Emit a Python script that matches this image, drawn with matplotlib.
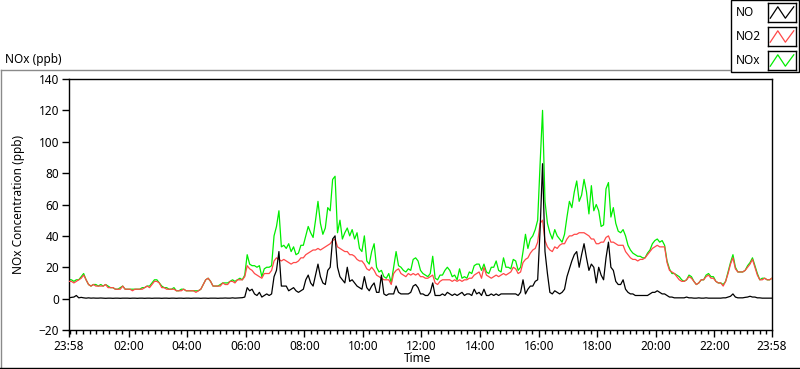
import numpy as np
import matplotlib.pyplot as plt
from matplotlib.lines import Line2D
from matplotlib.patches import Rectangle

plt.rcParams['font.family'] = ['Noto Sans', 'DejaVu Sans']
plt.rcParams['font.size'] = 8.5

# 5-minute readings starting at 23:58, one row per hour
step_min = 5

no = [0.5, 0.8, 1, 2, 0.5, 0.8, 0.5, 0.3, 0.5, 0.3, 0.4, 0.3,
      0.3, 0.4, 0.3, 0.2, 0.3, 0.3, 0.2, 0.3, 0.3, 0.2, 0.3, 0.3,
      0.3, 0.2, 0.3, 0.3, 0.2, 0.3, 0.3, 0.2, 0.3, 0.3, 0.2, 0.3,
      0.3, 0.3, 0.2, 0.3, 0.3, 0.2, 0.3, 0.3, 0.2, 0.3, 0.3, 0.2,
      0.3, 0.3, 0.2, 0.3, 0.3, 0.3, 0.2, 0.3, 0.3, 0.2, 0.3, 0.3,
      0.3, 0.2, 0.3, 0.3, 0.4, 0.3, 0.3, 0.5, 0.3, 0.4, 0.5, 0.6,
      1, 7, 5, 6, 3, 2, 4, 1, 2, 3, 2, 3,
      14, 18, 30, 8, 8, 8, 5, 6, 7, 5, 4, 5,
      6, 12, 15, 10, 8, 15, 22, 14, 10, 9, 18, 20,
      38, 40, 20, 14, 12, 10, 20, 11, 12, 10, 8, 7,
      6, 14, 7, 5, 8, 10, 4, 4, 15, 3, 2, 3,
      3, 3, 8, 4, 3, 3, 3, 3, 4, 8, 9, 7,
      3, 3, 2, 2, 4, 10, 2, 2, 2, 3, 2, 4,
      3, 2, 3, 2, 3, 4, 2, 3, 3, 2, 6, 3,
      4, 2, 6, 2, 2, 3, 2, 3, 2, 3, 3, 3,
      3, 3, 3, 3, 2, 4, 12, 3, 6, 8, 8, 11,
      12, 44, 86, 30, 16, 4, 3, 5, 4, 3, 4, 6,
      14, 19, 24, 28, 30, 20, 28, 35, 26, 18, 22, 20,
      10, 20, 15, 12, 26, 36, 20, 18, 11, 9, 9, 12,
      6, 4, 3, 3, 2, 2, 2, 2, 2, 2, 3, 4,
      4, 5, 4, 3, 3, 2, 1, 1, 0.5, 0.5, 0.5, 0.5,
      0.5, 1, 0.5, 0.5, 0.3, 0.3, 0.5, 0.3, 0.3, 0.5, 0.3, 0.3,
      0.3, 0.3, 0.3, 0.3, 0.5, 0.5, 1, 1.5, 3, 1, 0.5, 0.5,
      0.5, 0.8, 1, 1.5, 1, 1, 0.5, 0.5, 0.3, 0.3, 0.3, 0.3, 0.3]

no2 = [11, 11, 10, 11, 12, 13, 15, 12, 9, 8, 9, 8,
       8, 8, 8, 9, 7, 7, 7, 6, 6, 6, 8, 6,
       6, 6, 5, 6, 6, 6, 6, 7, 8, 7, 9, 11,
       11, 10, 7, 7, 6, 6, 6, 6, 5, 5, 5, 6,
       5, 5, 5, 5, 4, 5, 6, 9, 12, 13, 11, 8,
       8, 8, 8, 10, 9, 9, 11, 11, 10, 12, 12, 12,
       14, 21, 19, 18, 16, 15, 14, 13, 16, 16, 16, 18,
       24, 26, 25, 24, 25, 24, 23, 22, 23, 23, 24, 26,
       26, 28, 29, 30, 31, 31, 32, 31, 32, 33, 34, 35,
       37, 38, 33, 32, 31, 30, 30, 28, 28, 27, 25, 24,
       24, 22, 19, 18, 20, 18, 15, 14, 13, 12, 12, 12,
       9, 16, 18, 19, 16, 15, 14, 16, 15, 16, 15, 16,
       14, 14, 13, 13, 14, 15, 10, 9, 11, 12, 12, 12,
       12, 11, 12, 11, 12, 11, 12, 12, 13, 13, 15, 16,
       17, 13, 20, 15, 14, 13, 14, 15, 14, 15, 16, 15,
       16, 17, 20, 19, 16, 17, 23, 25, 26, 29, 31, 32,
       36, 48, 50, 37, 33, 31, 30, 33, 32, 34, 35, 35,
       38, 40, 40, 41, 41, 42, 42, 42, 41, 40, 38, 38,
       35, 35, 36, 36, 39, 40, 36, 36, 35, 34, 34, 34,
       30, 28, 26, 25, 25, 24, 25, 25, 26, 28, 30, 32,
       33, 34, 33, 33, 33, 23, 18, 17, 16, 14, 12, 11,
       11, 12, 14, 13, 11, 9, 10, 12, 12, 14, 15, 13,
       13, 11, 10, 10, 8, 11, 16, 22, 26, 19, 17, 17,
       17, 18, 20, 22, 25, 20, 15, 12, 12, 13, 12, 12, 13]

nox = [12, 12, 11, 12, 12, 14, 16, 12, 9, 8, 9, 9,
       8, 9, 8, 9, 8, 7, 7, 6, 6, 7, 8, 6,
       6, 6, 6, 6, 6, 6, 7, 7, 8, 8, 10, 12,
       12, 10, 8, 7, 7, 6, 6, 7, 5, 5, 6, 6,
       5, 5, 5, 5, 5, 5, 6, 9, 12, 13, 11, 8,
       8, 8, 9, 10, 10, 10, 11, 12, 11, 12, 13, 12,
       15, 28, 22, 21, 21, 20, 21, 14, 19, 20, 20, 21,
       40, 46, 56, 33, 34, 32, 35, 30, 33, 28, 29, 34,
       34, 40, 46, 42, 39, 50, 62, 48, 41, 45, 58, 56,
       76, 78, 42, 50, 38, 42, 45, 40, 44, 38, 42, 32,
       30, 40, 24, 22, 30, 35, 20, 17, 18, 14, 13, 16,
       10, 20, 30, 21, 20, 18, 17, 19, 18, 25, 26, 24,
       18, 16, 15, 14, 16, 27, 13, 12, 15, 15, 18, 20,
       18, 14, 15, 12, 19, 13, 14, 13, 17, 16, 21, 22,
       22, 18, 22, 17, 16, 20, 20, 24, 18, 17, 26, 20,
       20, 19, 25, 24, 18, 20, 30, 41, 32, 38, 40, 44,
       50, 86, 120, 62, 48, 42, 38, 44, 40, 38, 36, 41,
       52, 62, 58, 68, 75, 62, 66, 76, 68, 54, 72, 56,
       60, 56, 46, 47, 70, 74, 52, 58, 48, 43, 42, 44,
       40, 34, 31, 29, 28, 27, 27, 26, 26, 29, 31, 35,
       37, 38, 36, 37, 34, 24, 19, 16, 16, 15, 14, 12,
       11, 12, 15, 14, 11, 9, 10, 12, 12, 15, 16, 14,
       14, 11, 10, 10, 9, 11, 17, 23, 28, 20, 17, 17,
       17, 18, 21, 23, 26, 21, 16, 12, 13, 13, 12, 12, 13]

x_labels = ['23:58', '02:00', '04:00', '06:00', '08:00', '10:00', '12:00',
            '14:00', '16:00', '18:00', '20:00', '22:00', '23:58']
y_ticks = [-20, 0, 20, 40, 60, 80, 100, 120, 140]

t = np.arange(len(no)) * step_min
span = t[-1]

fig = plt.figure(figsize=(8, 3.69), dpi=100)
W, H = 800, 369

def fx(px):
    return px / W

def fy(py):
    return 1 - py / H

ax = fig.add_axes([fx(69), fy(330), fx(772) - fx(69), fy(79) - fy(330)])
ax.plot(t, nox, color='#00ee00', lw=0.9, zorder=2)
ax.plot(t, no2, color='#ff4848', lw=0.9, zorder=3)
ax.plot(t, no, color='black', lw=0.9, zorder=4)

ax.set_xlim(0, span)
ax.set_ylim(-20, 140)

# major ticks: first and last at 23:58, others on even hours (2 min after start)
major = [0] + [122 + 120 * k for k in range(11)] + [span]
ax.set_xticks(major)
ax.set_xticklabels(x_labels)
minor = np.arange(2, span, 120 / 9)
ax.set_xticks(minor, minor=True)
ax.set_yticks(y_ticks)
ax.tick_params(axis='both', which='major', length=5, width=1, color='black',
               labelsize=8.5, pad=2)
ax.tick_params(axis='x', which='minor', length=3, width=1, color='black')
for s in ax.spines.values():
    s.set_linewidth(1.0)
    s.set_color('black')
ax.set_xlabel('Time', fontsize=8.5)
ax.xaxis.set_label_coords((404 - 69) / 703, -0.115)
ax.xaxis.label.set_horizontalalignment('left')
ax.xaxis.label.set_verticalalignment('center')
ax.set_ylabel('NOx Concentration (ppb)', fontsize=8.5)
ax.yaxis.set_label_coords(-0.062, 0.5)

# outer frame
fig.add_artist(Line2D([fx(0.5), fx(730)], [fy(69.5), fy(69.5)], color='#8a8a8a', lw=1))
fig.add_artist(Line2D([fx(0.5), fx(0.5)], [fy(69.5), fy(368)], color='#8a8a8a', lw=1))
fig.add_artist(Line2D([fx(0), fx(800)], [fy(367.5), fy(367.5)], color='black', lw=1))
fig.text(fx(5), fy(59), 'NOx (ppb)', fontsize=8.5, va='center', ha='left')

# legend box
fig.add_artist(Rectangle((fx(730.5), fy(71.5)), fx(799) - fx(730.5), fy(0) - fy(71.5),
                         fill=False, edgecolor='black', lw=1))
names = ['NO', 'NO2', 'NOx']
colors = ['black', '#ff4848', '#00ee00']
for i, (nm, c) in enumerate(zip(names, colors)):
    top = 3 + i * 24
    fig.text(fx(736), fy(top + 10), nm, fontsize=8.5, va='center', ha='left')
    lax = fig.add_axes([fx(768), fy(top + 19), fx(796) - fx(768), fy(top) - fy(top + 19)])
    lax.plot([0.08, 0.35, 0.62, 0.92], [0.2, 0.8, 0.2, 0.8], color=c, lw=0.9)
    lax.set_xlim(0, 1)
    lax.set_ylim(0, 1)
    lax.set_xticks([])
    lax.set_yticks([])
    for s in lax.spines.values():
        s.set_linewidth(1.0)

fig.savefig('out.png', dpi=100)
